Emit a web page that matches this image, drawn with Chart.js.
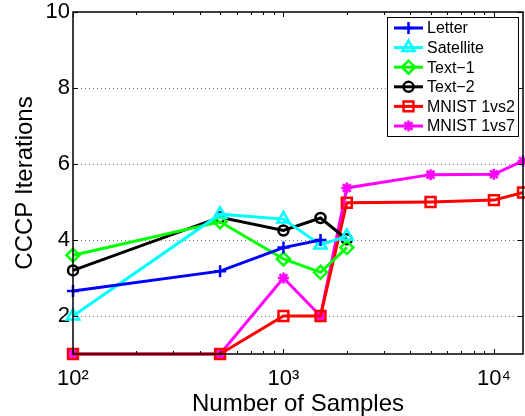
<!DOCTYPE html>
<html><head><meta charset="utf-8">
<script src="https://cdn.jsdelivr.net/npm/chart.js@4/dist/chart.umd.min.js"></script>
<style>html,body{margin:0;padding:0;background:#fff}#wrap{width:525px;height:416px;position:relative}</style>
</head><body><div id="wrap"><canvas id="c"></canvas></div>
<script>
// ---- data ----
const samplesLetter = [100, 500, 1000, 1500];
const samplesUci = [100, 500, 1000, 1500, 2000];
const samplesMnist = [100, 500, 1000, 1500, 2000, 5000, 10000, 13750];
const letterIters = [2.66, 3.18, 3.80, 4.00];
const satelliteIters = [2.00, 4.68, 4.55, 3.87, 4.10];
const text1Iters = [3.60, 4.48, 3.50, 3.15, 3.80];
const text2Iters = [3.20, 4.60, 4.25, 4.58, 4.02];
const mnist12Iters = [1, 1, 2, 2, 4.98, 5.00, 5.05, 5.25];
const mnist17Iters = [1, 1, 3, 2, 5.37, 5.72, 5.73, 6.08];
const seriesNames = ['Letter', 'Satellite', 'Text\u22121', 'Text\u22122', 'MNIST 1vs2', 'MNIST 1vs7'];
const yTickValues = [2, 4, 6, 8, 10];
const xMajorValues = [100, 1000, 10000];
const xTickLabels = ['10\u00B2', '10\u00B3', '10\u2074'];
const xTitle = 'Number of Samples';
const yTitle = 'CCCP Iterations';

const FONT = '"Liberation Sans", Arial, Helvetica, sans-serif';
const toPts = (xs, ys) => xs.map((x, i) => ({x: x, y: ys[i]}));

const styles = [
  {color: '#0000ff', pointStyle: 'cross', r: 6},
  {color: '#00ffff', pointStyle: 'triangle', r: 7},
  {color: '#00ff00', pointStyle: 'rectRot', r: 6.5},
  {color: '#000000', pointStyle: 'circle', r: 5},
  {color: '#ff0000', pointStyle: 'rect', r: 7},
  {color: '#ff00ff', pointStyle: 'star', r: 5.5}
];
const seriesData = [
  toPts(samplesLetter, letterIters),
  toPts(samplesUci, satelliteIters),
  toPts(samplesUci, text1Iters),
  toPts(samplesUci, text2Iters),
  toPts(samplesMnist, mnist12Iters),
  toPts(samplesMnist, mnist17Iters)
];

const datasets = seriesData.map((d, i) => ({
  label: seriesNames[i],
  data: d,
  borderColor: styles[i].color,
  backgroundColor: styles[i].color,
  borderWidth: 3,
  pointStyle: styles[i].pointStyle,
  pointRadius: styles[i].r,
  pointHoverRadius: styles[i].r,
  pointBorderColor: styles[i].color,
  pointBackgroundColor: 'rgba(0,0,0,0)',
  pointBorderWidth: 2.5,
  tension: 0,
  clip: false
}));

function drawMarker(ctx, style, x, y) {
  ctx.save();
  ctx.strokeStyle = style.color;
  ctx.fillStyle = 'rgba(0,0,0,0)';
  ctx.lineWidth = 2.5;
  if (Chart.helpers && Chart.helpers.drawPoint) {
    Chart.helpers.drawPoint(ctx, {pointStyle: style.pointStyle, radius: style.r, borderWidth: 2.5, rotation: 0}, x, y);
  }
  ctx.restore();
}

const framePlugin = {
  id: 'frame',
  afterDatasetsDraw(chart) {
    const ctx = chart.ctx;
    const {left, right, top, bottom} = chart.chartArea;
    const xs = chart.scales.x, ys = chart.scales.y;
    ctx.save();
    ctx.strokeStyle = '#000';
    ctx.lineWidth = 1.5;
    ctx.strokeRect(left, top, right - left, bottom - top);
    ctx.lineWidth = 1;
    ctx.beginPath();
    xs.ticks.forEach(t => {
      const px = Math.round(xs.getPixelForValue(t.value)) + 0.5;
      const len = xMajorValues.includes(t.value) ? 5 : 3;
      ctx.moveTo(px, bottom); ctx.lineTo(px, bottom - len);
      ctx.moveTo(px, top); ctx.lineTo(px, top + len);
    });
    ys.ticks.forEach(t => {
      const py = Math.round(ys.getPixelForValue(t.value)) + 0.5;
      ctx.moveTo(left, py); ctx.lineTo(left + 5, py);
      ctx.moveTo(right, py); ctx.lineTo(right - 5, py);
    });
    ctx.stroke();
    ctx.restore();
  },
  afterDraw(chart) {
    const ctx = chart.ctx;
    const bx = 387, by = 17, bw = 131, bh = 119;
    ctx.save();
    ctx.fillStyle = '#fff';
    ctx.fillRect(bx, by, bw, bh);
    ctx.strokeStyle = '#000';
    ctx.lineWidth = 1;
    ctx.strokeRect(bx + 0.5, by + 0.5, bw, bh);
    ctx.font = '16px ' + FONT;
    ctx.textBaseline = 'middle';
    ctx.textAlign = 'left';
    chart.data.datasets.forEach((ds, i) => {
      const yy = 28 + i * 19.6;
      ctx.strokeStyle = styles[i].color;
      ctx.lineWidth = 3;
      ctx.beginPath();
      ctx.moveTo(394, yy); ctx.lineTo(423, yy);
      ctx.stroke();
      drawMarker(ctx, styles[i], 408.5, yy);
      ctx.fillStyle = '#000';
      ctx.fillText(ds.label, 427, yy + 1);
    });
    ctx.restore();
  }
};

new Chart(document.getElementById('c'), {
  type: 'line',
  data: {datasets: datasets},
  options: {
    responsive: true,
    maintainAspectRatio: false,
    animation: false,
    events: [],
    layout: {autoPadding: false, padding: {top: 12, right: 2, left: 0, bottom: 0}},
    plugins: {legend: {display: false}, tooltip: {enabled: false}},
    scales: {
      x: {
        type: 'logarithmic',
        min: 100,
        max: 13750,
        afterBuildTicks(scale) {
          const t = [];
          xMajorValues.forEach(d => {
            for (let k = 1; k <= 9; k++) {
              const v = d * k;
              if (v >= scale.min && v <= scale.max) t.push({value: v});
            }
          });
          scale.ticks = t;
        },
        afterFit(scale) {
          scale.height = 62;
          scale.paddingLeft = 0; scale.paddingRight = 0;
          scale.paddingTop = 0; scale.paddingBottom = 0;
        },
        grid: {display: false, drawTicks: false},
        border: {display: false},
        ticks: {
          autoSkip: false,
          maxRotation: 0,
          padding: 12,
          color: '#000',
          font: {family: FONT, size: 22},
          callback(v) {
            const idx = xMajorValues.indexOf(v);
            return idx >= 0 ? xTickLabels[idx] : '';
          }
        },
        title: {display: true, text: xTitle, color: '#000', font: {family: FONT, size: 24, lineHeight: 1}, padding: {top: 0, bottom: 0}}
      },
      y: {
        type: 'linear',
        min: 1,
        max: 10,
        afterBuildTicks(scale) { scale.ticks = yTickValues.map(v => ({value: v})); },
        afterFit(scale) {
          scale.width = 73;
          scale.paddingLeft = 0; scale.paddingRight = 0;
          scale.paddingTop = 0; scale.paddingBottom = 0;
        },
        grid: {
          drawTicks: false,
          lineWidth: 1,
          color: ctx => (ctx.tick && ctx.tick.value === 10) ? 'rgba(0,0,0,0)' : '#777'
        },
        border: {display: false, dash: [1, 3]},
        ticks: {
          padding: 3,
          color: '#000',
          font: {family: FONT, size: 22},
          callback: v => String(v)
        },
        title: {display: true, text: yTitle, color: '#000', font: {family: FONT, size: 24, lineHeight: 1}, padding: {top: 13, bottom: 0}}
      }
    }
  },
  plugins: [framePlugin]
});
</script>
</body></html>
